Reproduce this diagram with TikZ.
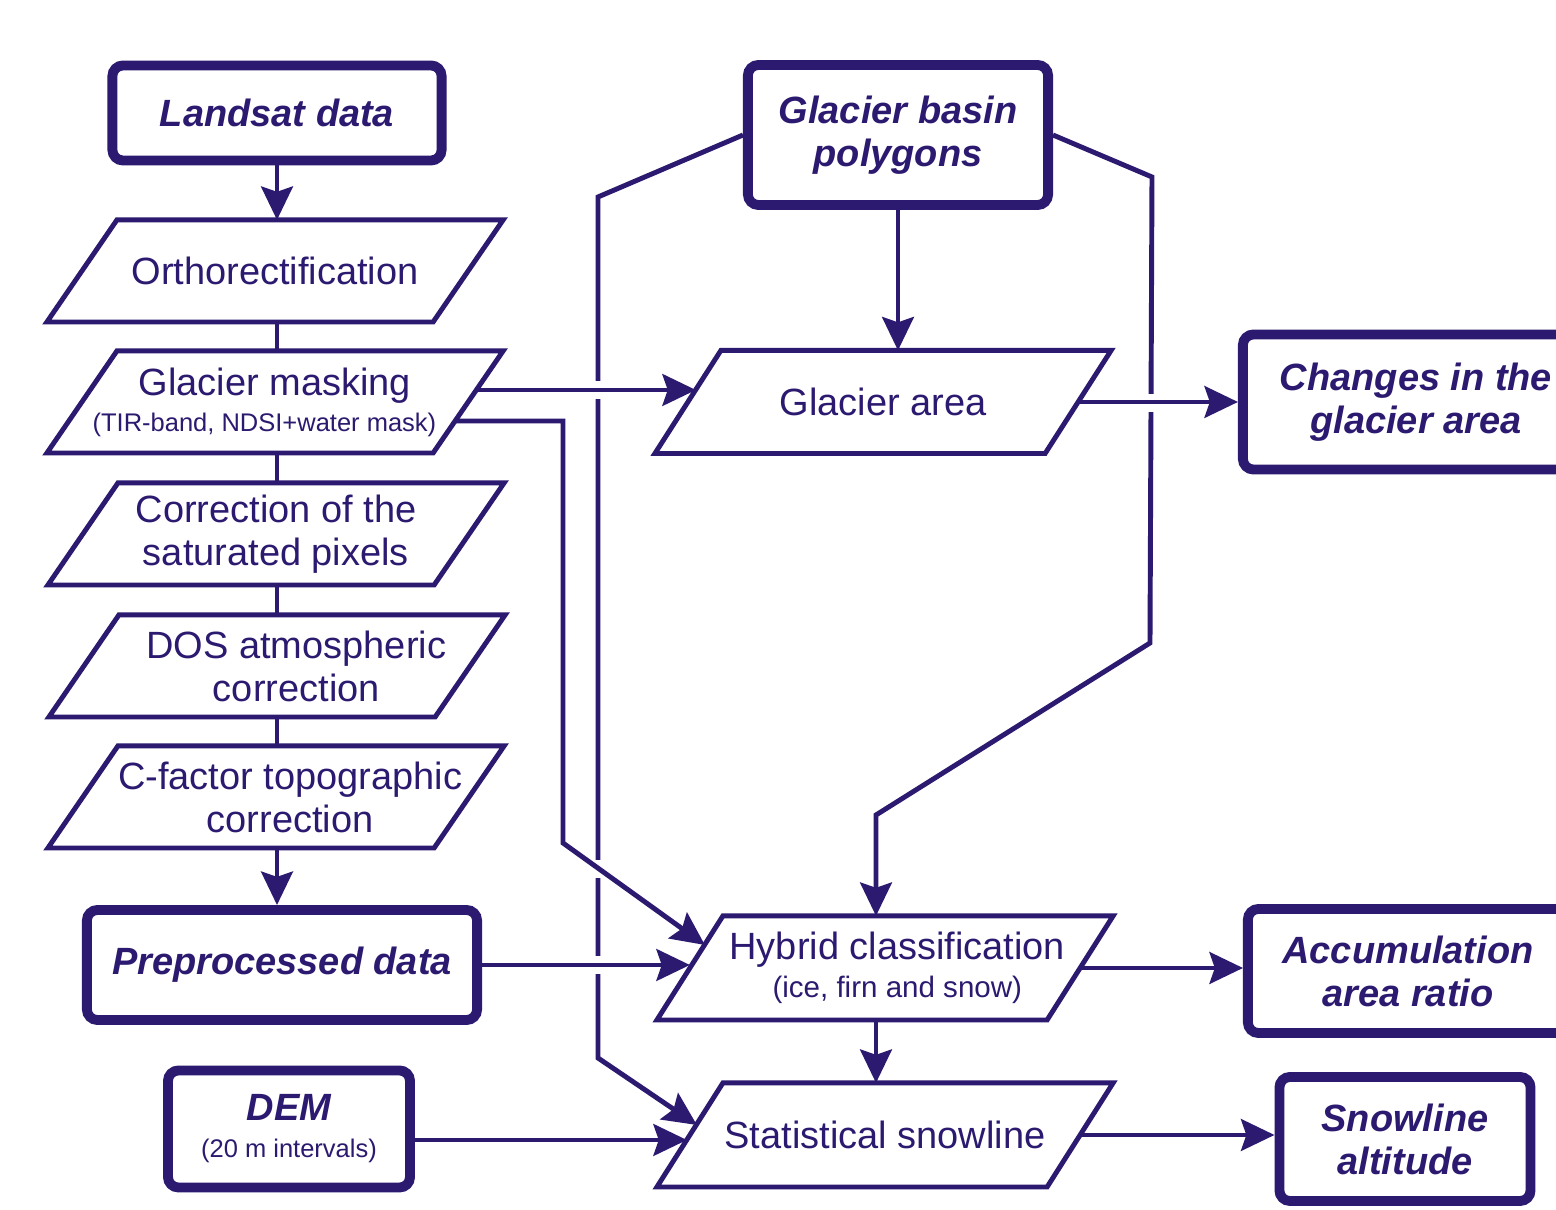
\documentclass[tikz,border=0pt]{standalone}
\usepackage{fontspec}
\setmainfont{Liberation Sans}
\usetikzlibrary{arrows.meta,calc}
\definecolor{ink}{HTML}{2C1A70}
\newcommand\mainsize{\fontsize{10.8}{12.2}\selectfont}
\newcommand\notesize{\fontsize{7.25}{9}\selectfont}
\tikzset{
  result/.style={draw=ink, text=ink, line width=2.8pt, rounded corners=3pt, align=center, inner sep=0pt, font=\mainsize\bfseries\itshape},
  process/.style={text=ink, align=center, inner sep=0pt, outer sep=0pt, minimum width=3.86cm, minimum height=1.02cm, font=\mainsize},
  slanted/.style={draw=ink, line width=1.4pt},
  flow/.style={draw=ink, line width=1.4pt, -{Stealth[length=9.5pt,width=9pt,inset=1.5pt]}},
  link/.style={draw=ink, line width=1.4pt},
}

\begin{document}
\begin{tikzpicture}[x=0.01cm, y=-0.01cm]
\path[use as bounding box, fill=white] (0,0) rectangle (1556,1210);

% preprocessing chain
\node[result, minimum width=3.29cm, minimum height=0.95cm] (landsat) at (277,113) {Landsat data};
\node[process] (ortho) at (275,271) {Orthorectification};
\node[process] (mask) at (275,402) {Glacier masking\\[-2pt]{\notesize\hspace*{-6pt}(TIR-band, NDSI+water mask)}};
\node[process] (satur) at (276,534) {Correction of the\\saturated pixels};
\node[process] (dos) at (277,666) {\hspace*{11pt}DOS atmospheric\\\hspace*{11pt}correction};
\node[process] (cfac) at (276,797) {\hspace*{8pt}C-factor topographic\\\hspace*{8pt}correction};
\node[result, minimum width=3.90cm, minimum height=1.10cm] (prep) at (282,965) {Preprocessed data};
\node[result, minimum width=2.42cm, minimum height=1.17cm] (dem) at (289,1129) {DEM\\[-1.7pt]{\mdseries\upshape\notesize (20 m intervals)}};

% glacier outlines and results
\node[result, minimum width=3.00cm, minimum height=1.40cm] (basin) at (898,135) {Glacier basin\\polygons};
\node[process, minimum width=3.90cm, minimum height=1.03cm] (garea) at (883,402) {Glacier area};
\node[process, minimum width=3.90cm, minimum height=1.04cm] (hybrid) at (885,968) {\hspace*{7pt}Hybrid classification\\[-1.4pt]{\fontsize{8.4}{10}\selectfont\hspace*{7pt}(ice, firn and snow)}};
\node[process, minimum width=3.90cm, minimum height=1.04cm] (snowstat) at (885,1135) {Statistical snowline};
\node[result, minimum width=3.46cm, minimum height=1.35cm] (changes) at (1416,402) {Changes in the\\glacier area};
\node[result, minimum width=3.20cm, minimum height=1.24cm] (aar) at (1408,971) {Accumulation\\area ratio};
\node[result, minimum width=2.51cm, minimum height=1.24cm] (altitude) at (1405,1139) {Snowline\\altitude};

% parallelogram outlines
\foreach \n/\s in {ortho/35, mask/35, satur/35, dos/35, cfac/35, garea/33, hybrid/33, snowstat/33}
  \draw[slanted] ($(\n.south west)+(-\s,0)$) -- ($(\n.north west)+(\s,0)$)
    -- ($(\n.north east)+(\s,0)$) -- ($(\n.south east)+(-\s,0)$) -- cycle;

\coordinate (l1) at (598,197);
\coordinate (l2) at (598,1058);
\coordinate (r1) at (1152,177);
\coordinate (r2) at (1150,643);
\coordinate (b2) at (876,815);
\coordinate (m1) at (563,843);

\draw[flow] (landsat) -- (landsat |- ortho.north);
\foreach \a/\b in {ortho/mask, mask/satur, satur/dos, dos/cfac}
  \draw[link] (landsat |- \a.south) -- (landsat |- \b.north);
\draw[flow] (landsat |- cfac.south) -- (landsat |- prep.north);

% basin polygons feed both classifications
\draw[flow] (basin.west) -- (l1) -- (l2) -- ($(snowstat.west)+(7,-10)$);
\draw[flow] (basin.east) -- (r1) -- (r2) -- (b2) -- (b2 |- hybrid.north);
\draw[flow] (basin.south) -- (basin.south |- garea.north);

% line gaps at crossings
\foreach \p in {(598,390),(598,869),(598,965),(1152,403)}
  \fill[white] \p ++(-7,-9) rectangle ++(14,18);

\draw[flow] ($(mask.east)+(8,-12)$) -- ($(garea.west)+(8,-12)$);
\draw[flow] ($(mask.east)+(-13,19)$) -| (m1) -- ($(hybrid.west)+(15,-23)$);
\draw[flow] (prep.east) -- (prep.east -| hybrid.west);
\draw[flow] ($(dem.east)+(0,11)$) -- ($(snowstat.west)+(-3,5)$);
\draw[flow] (b2 |- hybrid.south) -- (b2 |- snowstat.north);
\draw[flow] (garea.east) -- (changes.west);
\draw[flow] (hybrid.east) -- (hybrid.east -| aar.west);
\draw[flow] (snowstat.east) -- (snowstat.east -| altitude.west);
\end{tikzpicture}
\end{document}
